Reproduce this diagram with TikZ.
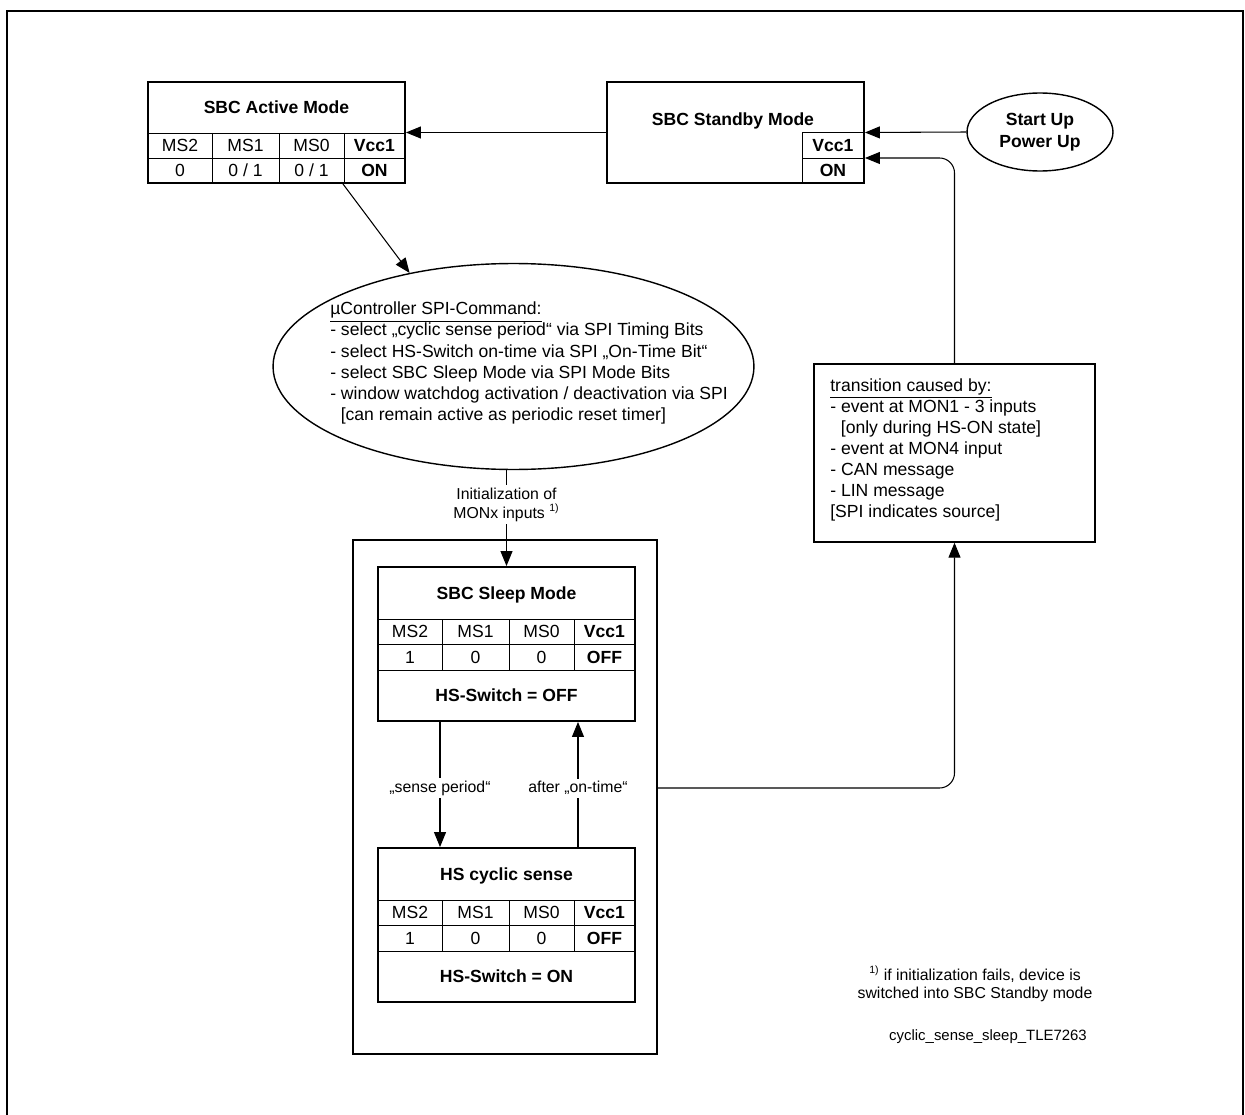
\documentclass[tikz,border=0pt]{standalone}
\usepackage{fontspec}
\setmainfont{Liberation Sans}
\usetikzlibrary{arrows.meta,positioning,shapes.geometric}

\begin{document}
\begin{tikzpicture}[x=0.02cm, y=-0.02cm,
    modebox/.style={rectangle, draw, line width=1.1pt, minimum width=5.14cm, inner sep=0pt},
    grid/.style={line width=0.5pt},
    cell/.style={inner sep=0pt, text height=7.2pt, text depth=0pt},
    title/.style={inner sep=0pt, text height=7.2pt, text depth=0pt, font=\bfseries},
    conn/.style={-{Triangle[length=8.5pt, width=6.8pt]}, line width=0.6pt},
    lbl/.style={fill=white, inner sep=1.5pt, font=\fontsize{9}{10.8}\selectfont, align=center},
    note/.style={rectangle, draw, line width=0.8pt, inner sep=0pt}]
    \useasboundingbox (0,0) rectangle (1245,1115);
    % Frame, open at the bottom
    \draw[line width=1.1pt] (7,1115) -- (7,11) -- (1243,11) -- (1243,1115);

    % SBC Active Mode
    \begin{scope}[shift={(148,82)}]
      \draw[grid] (0,51) -- (257,51) (0,76) -- (257,76);
      \draw[grid] (64,51) -- (64,101) (131,51) -- (131,101) (196,51) -- (196,101);
      \node[modebox, minimum height=2.02cm] (active) at (128.5,50.5) {};
      \node[title] (active-title) at (128.5,25) {SBC Active Mode};
      \foreach \cx/\txt [count=\i] in {32/MS2, 97.5/MS1, 163.5/MS0}
        \node[cell] (active-h\i) at (\cx,63.5) {\txt};
      \node[title] (active-vcc) at (226.5,63.5) {Vcc1};
      \foreach \cx/\txt [count=\i] in {32/0, 97.5/{0 / 1}, 163.5/{0 / 1}}
        \node[cell] (active-v\i) at (\cx,88.5) {\txt};
      \node[title] (active-state) at (226.5,88.5) {ON};
    \end{scope}

    % SBC Standby Mode
    \node[modebox, minimum height=2.02cm] (standby) at (735.5,132.5) {};
    \draw[grid] (802,183) |- (864,132) (802,158) -- (864,158);
    \node[title] (standby-title) at (733,119) {SBC Standby Mode};
    \node[title] (standby-vcc) at (833,145) {Vcc1};
    \node[title] (standby-state) at (833,170.5) {ON};

    % Start up
    \node[ellipse, draw, line width=0.8pt, minimum width=2.92cm, minimum height=1.56cm,
      align=center, font=\fontsize{10}{12.5}\selectfont\bfseries] (startup) at (1040,132) {Start Up\\Power Up};

    % uController command
    \node[ellipse, draw, line width=0.8pt, minimum width=9.62cm, minimum height=4.12cm] (spi) at (513.5,366.5) {};
    \node[align=left, inner sep=0pt] (spi-text) at (529,363)
      {\underline{µController SPI-Command:}\\
       - select „cyclic sense period“ via SPI Timing Bits\\
       - select HS-Switch on-time via SPI „On-Time Bit“\\
       - select SBC Sleep Mode via SPI Mode Bits\\
       - window watchdog activation / deactivation via SPI\\
       \hspace*{0.6em}[can remain active as periodic reset timer]};

    % Wake-up sources
    \node[note, minimum width=5.62cm, minimum height=3.56cm] (trans) at (954.5,453) {};
    \node[anchor=north west, align=left, inner sep=0pt] (trans-text) at (830,378)
      {\underline{transition caused by:}\\
       - event at MON1 - 3 inputs\\
       \hspace*{0.6em}[only during HS-ON state]\\
       - event at MON4 input\\
       - CAN message\\
       - LIN message\\
       {[SPI indicates source]}};

    % Sleep cycle
    \node[note, minimum width=6.08cm, minimum height=10.28cm] (container) at (505,797) {};
    \begin{scope}[shift={(378,567)}]
      \draw[grid] (0,52) -- (257,52) (0,77) -- (257,77) (0,103) -- (257,103);
      \draw[grid] (64,52) -- (64,103) (131,52) -- (131,103) (196,52) -- (196,103);
      \node[modebox, minimum height=3.08cm] (sleep) at (128.5,77) {};
      \node[title] (sleep-title) at (128.5,26) {SBC Sleep Mode};
      \foreach \cx/\txt [count=\i] in {32/MS2, 97.5/MS1, 163.5/MS0}
        \node[cell] (sleep-h\i) at (\cx,64.5) {\txt};
      \node[title] (sleep-vcc) at (226.5,64.5) {Vcc1};
      \foreach \cx/\txt [count=\i] in {32/1, 97.5/0, 163.5/0}
        \node[cell] (sleep-v\i) at (\cx,90) {\txt};
      \node[title] (sleep-state) at (226.5,90) {OFF};
      \node[title] (sleep-hs) at (128.5,128.5) {HS-Switch = OFF};
    \end{scope}
    \begin{scope}[shift={(378,848)}]
      \draw[grid] (0,52) -- (257,52) (0,77) -- (257,77) (0,103) -- (257,103);
      \draw[grid] (64,52) -- (64,103) (131,52) -- (131,103) (196,52) -- (196,103);
      \node[modebox, minimum height=3.08cm] (hs) at (128.5,77) {};
      \node[title] (hs-title) at (128.5,26) {HS cyclic sense};
      \foreach \cx/\txt [count=\i] in {32/MS2, 97.5/MS1, 163.5/MS0}
        \node[cell] (hs-h\i) at (\cx,64.5) {\txt};
      \node[title] (hs-vcc) at (226.5,64.5) {Vcc1};
      \foreach \cx/\txt [count=\i] in {32/1, 97.5/0, 163.5/0}
        \node[cell] (hs-v\i) at (\cx,90) {\txt};
      \node[title] (hs-state) at (226.5,90) {OFF};
      \node[title] (hs-hs) at (128.5,128.5) {HS-Switch = ON};
    \end{scope}

    % Notes
    \node[align=center, font=\fontsize{9}{10.4}\selectfont] (footnote) at (975,984)
      {\textsuperscript{1)} if initialization fails, device is\\switched into SBC Standby mode};
    \node[font=\fontsize{8.5}{10}\selectfont] (figname) at (988,1037) {cyclic\_sense\_sleep\_TLE7263};

    % Transitions
    \draw[conn] (standby.west) -- (active.east);
    \draw[conn] (startup.west) -- (standby.east);
    \draw[conn, rounded corners=0.3cm] (trans.north) |- ([yshift=-0.51cm]standby.east);
    \draw[conn] ([xshift=1.33cm]active.south) -- (spi.138);
    \draw[conn] (spi.south -| sleep.north) -- node[lbl, pos=0.36] (init-lbl)
      {Initialization of\\MONx inputs \textsuperscript{1)}} (sleep.north);
    \draw[conn] ([xshift=-1.33cm]sleep.south) -- node[lbl, pos=0.53] (sense-lbl) {„sense period“} ([xshift=-1.33cm]hs.north);
    \draw[conn] ([xshift=1.43cm]hs.north) -- node[lbl, pos=0.47] (ontime-lbl) {after „on-time“} ([xshift=1.43cm]sleep.south);
    \draw[conn, rounded corners=0.3cm] ([yshift=0.18cm]container.east) -| (trans.south);
\end{tikzpicture}
\end{document}
